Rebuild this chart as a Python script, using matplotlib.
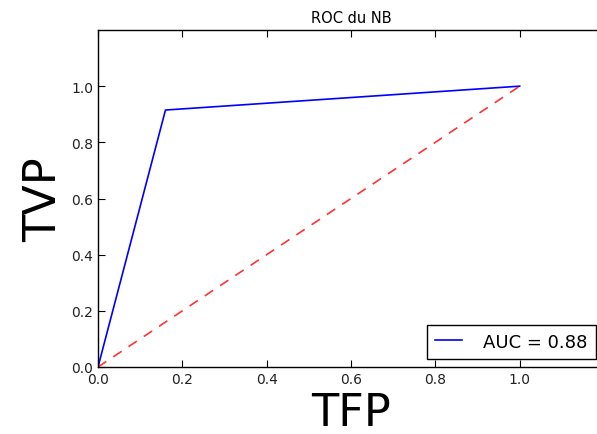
import matplotlib
matplotlib.use('Agg')
import matplotlib.pyplot as plt

# Données de la courbe ROC
tfp = [0.0, 0.16, 1.0]
tvp = [0.0, 0.915, 1.0]
auc = 0.88
diag = [0.0, 1.0]

fig = plt.figure(figsize=(5.97, 4.35), dpi=100)
# la figure d'origine est coupée à droite, l'axe dépasse donc du cadre
ax = fig.add_axes([98 / 597, 67 / 435, 506 / 597, 337 / 435])

ax.plot(tfp, tvp, color='b', lw=1.2, label='AUC = %0.2f' % auc)
ax.plot(diag, diag, 'r--', lw=1.2, alpha=0.8, dashes=(6, 5))

ax.set_xlim(0, 1.2)
ax.set_ylim(0, 1.2)
ax.set_xticks([0.0, 0.2, 0.4, 0.6, 0.8, 1.0])
ax.set_yticks([0.0, 0.2, 0.4, 0.6, 0.8, 1.0])
ax.tick_params(direction='in', top=True, right=True, length=5, labelsize=10,
               labelcolor='#222222')
for s in ax.spines.values():
    s.set_color('black')
    s.set_linewidth(1.0)

ax.set_title('ROC du NB', fontsize=10.5)
ax.set_xlabel('TFP', fontsize=32)
ax.set_ylabel('TVP', fontsize=32)
ax.legend(loc='lower right', fancybox=False, edgecolor='black', framealpha=1,
          fontsize=13, handlelength=1.5, handletextpad=1.2, borderpad=0.45,
          borderaxespad=0.45)

plt.savefig('out.png', dpi=100)
